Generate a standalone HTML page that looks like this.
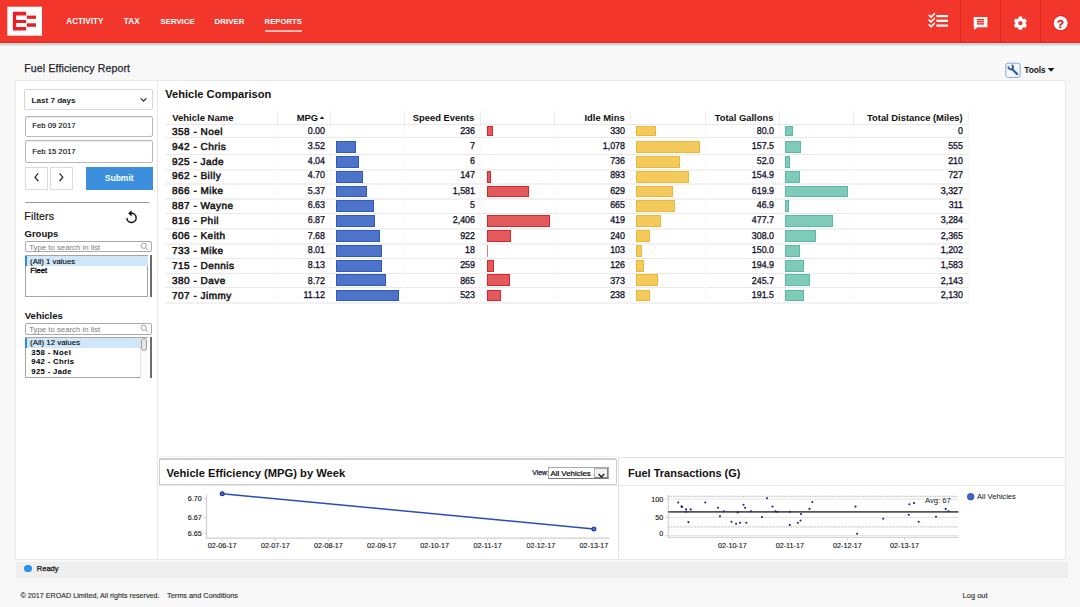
<!DOCTYPE html>
<html><head><meta charset="utf-8"><title>Fuel Efficiency Report</title>
<style>
html,body{margin:0;padding:0;}
body{width:1080px;height:607px;overflow:hidden;position:relative;background:#f8f8f8;font-family:"Liberation Sans", Arial, sans-serif;}
body>div{position:absolute;}
.t{white-space:nowrap;}
</style></head><body>
<div style="left:0px;top:0px;width:1080px;height:43px;background:#f2362b;z-index:2"></div>
<div style="left:0px;top:42px;width:1080px;height:1px;background:#f41f12;z-index:2"></div>
<div style="left:0px;top:43px;width:1080px;height:2px;background:#bfdadd;box-shadow:0 1px 1.5px rgba(0,0,0,.08);z-index:2"></div>
<svg style="position:absolute;left:0;top:0;z-index:3" width="50" height="43" viewBox="0 0 50 43">
<rect x="7.3" y="6.7" width="34.7" height="29" fill="#fff"/>
<path fill="#ee1d23" d="M12.9 11.7H26.1V15.6H16.2V20H26.1V23H16.2V27.1H26.1V30.4H12.9Z"/>
<rect x="26.8" y="15.6" width="9.2" height="3.2" fill="#ee1d23"/>
<rect x="26.8" y="23.3" width="9.2" height="3.5" fill="#ee1d23"/>
</svg>
<div class="t" style="left:66.30px;top:17.73px;font-size:8.15px;line-height:8.15px;font-weight:700;color:#fff;z-index:4;">ACTIVITY</div>
<div class="t" style="left:123.80px;top:17.15px;font-size:8.3px;line-height:8.3px;font-weight:700;color:#fff;z-index:4;">TAX</div>
<div class="t" style="left:160.50px;top:17.90px;font-size:7.8px;line-height:7.8px;font-weight:700;color:#fff;z-index:4;">SERVICE</div>
<div class="t" style="left:214.60px;top:17.82px;font-size:7.95px;line-height:7.95px;font-weight:700;color:#fff;z-index:4;">DRIVER</div>
<div class="t" style="left:264.60px;top:17.95px;font-size:7.7px;line-height:7.7px;font-weight:700;color:#fff;z-index:4;">REPORTS</div>
<div style="left:265px;top:30px;width:37px;height:1.6px;background:#f9b8b3;z-index:4"></div>
<div style="left:960px;top:0px;width:1px;height:43px;background:#d8281f;z-index:4"></div>
<div style="left:1000px;top:0px;width:1px;height:43px;background:#d8281f;z-index:4"></div>
<div style="left:1040px;top:0px;width:1px;height:43px;background:#d8281f;z-index:4"></div>
<svg style="position:absolute;left:920px;top:0;z-index:5" width="160" height="43" viewBox="920 0 160 43">
<g fill="none" stroke="#fff" stroke-width="1.7" stroke-linecap="round" stroke-linejoin="round">
<path d="M929.2 15.3l1.9 1.8 3.3-3.4"/><path d="M929.2 20.1l1.9 1.8 3.3-3.4"/><path d="M929.2 24.9l1.9 1.8 3.3-3.4"/>
</g>
<g fill="#fff"><rect x="936.4" y="15" width="11.6" height="2.2"/><rect x="936.4" y="19.7" width="11.6" height="2.2"/><rect x="936.4" y="24.5" width="11.6" height="2.2"/></g>
<path fill="#fff" d="M973.7 16.9H987.4V27.2H977.5L974.2 29.9V27.2H973.7Z"/>
<g fill="#ee2a1f"><rect x="976.9" y="19" width="7.2" height="1.4"/><rect x="976.9" y="21.1" width="7.2" height="1.4"/><rect x="976.9" y="23.2" width="7.2" height="1.4"/></g>
<g transform="translate(1020.4 23.2)" fill="#fff">
<circle r="5.2"/>
<rect x="-1.8" y="-6.6" width="3.6" height="3" rx=".4" transform="rotate(0)"/>
<rect x="-1.8" y="-6.6" width="3.6" height="3" rx=".4" transform="rotate(60)"/>
<rect x="-1.8" y="-6.6" width="3.6" height="3" rx=".4" transform="rotate(120)"/>
<rect x="-1.8" y="-6.6" width="3.6" height="3" rx=".4" transform="rotate(180)"/>
<rect x="-1.8" y="-6.6" width="3.6" height="3" rx=".4" transform="rotate(240)"/>
<rect x="-1.8" y="-6.6" width="3.6" height="3" rx=".4" transform="rotate(300)"/>
<circle r="2.1" fill="#f2362b"/>
</g>
<circle cx="1060.7" cy="23.2" r="7.2" fill="#fff"/>
<circle cx="1060.7" cy="23.2" r="7.6" fill="none" stroke="#e81a12" stroke-width=".8"/><text x="1060.6" y="27.8" font-family="Liberation Sans, Arial, sans-serif" font-weight="700" font-size="11.5" fill="#e8141b" stroke="#e8141b" stroke-width=".3" text-anchor="middle">?</text>
</svg>
<div class="t" style="left:24.30px;top:63.05px;font-size:10.5px;line-height:10.5px;font-weight:400;color:#23232f;letter-spacing:0.15px;-webkit-text-stroke:0.25px #23232f;">Fuel Efficiency Report</div>
<svg style="position:absolute;left:1004px;top:61px" width="18" height="18" viewBox="1004 61 18 18">
<rect x="1005.8" y="63.2" width="14.4" height="14.2" rx="2" fill="#f4f8fd" stroke="#86a8d8" stroke-width="1"/>
<path d="M1008.6 66.4 A2.3 2.3 0 1 0 1011.6 65.0" fill="none" stroke="#2f5ea8" stroke-width="1.7"/>
<path d="M1011.8 68.8 L1017.2 74.1" fill="none" stroke="#2f5ea8" stroke-width="2.2" stroke-linecap="round"/>
</svg>
<div class="t" style="left:1024.20px;top:66.15px;font-size:8.3px;line-height:8.3px;font-weight:700;color:#111;">Tools</div>
<svg style="position:absolute;left:1047px;top:67px" width="9" height="6"><path d="M0.8 1H7.4L4.1 4.7Z" fill="#111"/></svg>
<div style="left:15px;top:80px;width:1051px;height:480px;background:#fff;border:1px solid #e8e8e8;box-sizing:border-box"></div>
<div style="left:157px;top:81px;width:1px;height:478px;background:#e6e6e6"></div>
<div style="left:24px;top:89px;width:129px;height:21.3px;border:1px solid #d6d6d6;border-radius:2px;box-sizing:border-box;background:#fff"></div>
<div class="t" style="left:31.50px;top:96.75px;font-size:8.1px;line-height:8.1px;font-weight:700;color:#1a1a2a;">Last 7 days</div>
<svg style="position:absolute;left:139px;top:97px" width="9" height="6"><path d="M1.6 1.6L4.6 4.8L7.6 1.6L6.6 1.6L4.6 3.5L2.6 1.6Z" fill="#222" stroke="#222" stroke-width=".5"/></svg>
<div style="left:24.5px;top:115.5px;width:128.5px;height:21.6px;border:1px solid #b8b8b8;border-radius:2px;box-sizing:border-box;background:#fff;box-shadow:inset 0 1px 1px rgba(0,0,0,.08)"></div>
<div class="t" style="left:32.30px;top:121.95px;font-size:7.7px;line-height:7.7px;font-weight:400;color:#000;-webkit-text-stroke:0.1px #000;">Feb 09 2017</div>
<div style="left:24.5px;top:140.4px;width:128.5px;height:23.1px;border:1px solid #b8b8b8;border-radius:2px;box-sizing:border-box;background:#fff;box-shadow:inset 0 1px 1px rgba(0,0,0,.08)"></div>
<div class="t" style="left:32.30px;top:147.95px;font-size:7.7px;line-height:7.7px;font-weight:400;color:#000;-webkit-text-stroke:0.1px #000;">Feb 15 2017</div>
<div style="left:24.9px;top:166.6px;width:23.6px;height:23.1px;border:1px solid #dcdcdc;box-sizing:border-box;background:#fff"></div>
<div style="left:49.6px;top:166.6px;width:23.6px;height:23.1px;border:1px solid #dcdcdc;box-sizing:border-box;background:#fff"></div>
<svg style="position:absolute;left:30px;top:170px" width="40" height="16"><path d="M8.2 3.4L5 7.2L8.2 11" fill="none" stroke="#222" stroke-width="1.2"/><path d="M29.6 3.4L32.8 7.2L29.6 11" fill="none" stroke="#222" stroke-width="1.2"/></svg>
<div style="left:85.5px;top:166.6px;width:67.5px;height:23.3px;background:#3b8fdd"></div>
<div class="t" style="left:-30.80px;top:174.05px;width:300px;text-align:center;font-size:8.5px;line-height:8.5px;font-weight:700;color:#fff;">Submit</div>
<div style="left:24.5px;top:201.6px;width:124px;height:1px;background:#9a9a9a"></div>
<div class="t" style="left:24.30px;top:211.00px;font-size:10.6px;line-height:10.6px;font-weight:400;color:#151520;letter-spacing:0.15px;-webkit-text-stroke:0.2px #151520;">Filters</div>
<svg style="position:absolute;left:120px;top:205px" width="22" height="22" viewBox="120 205 22 22"><path d="M127 218.6 A4.6 4.6 0 1 0 131.4 213.3" fill="none" stroke="#111" stroke-width="1.45" stroke-linecap="round"/><path d="M128.2 213.3 L131.6 210.2 L131.6 216.4 Z" fill="#111"/></svg>
<div class="t" style="left:24.50px;top:229.05px;font-size:9.5px;line-height:9.5px;font-weight:700;color:#111;">Groups</div>
<div style="left:25.1px;top:240.7px;width:127.1px;height:11.3px;border:1px solid #a9a9a9;border-radius:2px;box-sizing:border-box;background:#fff"></div>
<div class="t" style="left:29.20px;top:243.90px;font-size:7.8px;line-height:7.8px;font-weight:400;color:#7c7c7c;">Type to search in list</div>
<svg style="position:absolute;left:140px;top:242px" width="9" height="9"><circle cx="3.8" cy="3.8" r="2.6" fill="none" stroke="#999" stroke-width=".9"/><path d="M5.7 5.7L7.8 7.8" stroke="#999" stroke-width=".9"/></svg>
<div style="left:24.7px;top:255.2px;width:123.6px;height:41.5px;border:1px solid #a6a6a6;box-sizing:border-box;background:#fff"></div>
<div style="left:25.5px;top:255.9px;width:122px;height:10px;background:#cfe7f9"></div>
<div style="left:25px;top:255.9px;width:1.8px;height:10px;background:#2f8ae0"></div>
<div style="left:150.3px;top:255.2px;width:1.9px;height:41.5px;background:#6c6c6c"></div>
<div class="t" style="left:30.10px;top:257.90px;font-size:7.8px;line-height:7.8px;font-weight:400;color:#000;-webkit-text-stroke:0.1px #000;">(All) 1 values</div>
<div class="t" style="left:30.30px;top:267.00px;font-size:7.6px;line-height:7.6px;font-weight:400;color:#000;-webkit-text-stroke:0.3px #000;">Fleet</div>
<div class="t" style="left:24.80px;top:311.05px;font-size:9.5px;line-height:9.5px;font-weight:700;color:#111;">Vehicles</div>
<div style="left:24.9px;top:322.8px;width:127.5px;height:11.8px;border:1px solid #a9a9a9;border-radius:2px;box-sizing:border-box;background:#fff"></div>
<div class="t" style="left:29.20px;top:325.90px;font-size:7.8px;line-height:7.8px;font-weight:400;color:#7c7c7c;">Type to search in list</div>
<svg style="position:absolute;left:140px;top:324px" width="9" height="9"><circle cx="3.8" cy="3.8" r="2.6" fill="none" stroke="#999" stroke-width=".9"/><path d="M5.7 5.7L7.8 7.8" stroke="#999" stroke-width=".9"/></svg>
<div style="left:24.9px;top:337.3px;width:123.5px;height:41.2px;border:1px solid #a6a6a6;box-sizing:border-box;background:#fff"></div>
<div style="left:25.7px;top:338px;width:114px;height:9.8px;background:#cfe7f9"></div>
<div style="left:25.2px;top:338px;width:1.8px;height:9.8px;background:#2f8ae0"></div>
<div style="left:139.8px;top:338px;width:8px;height:40px;background:#fbfbfb;border-left:1px solid #e2e2e2;box-sizing:border-box"></div>
<div style="left:140.6px;top:338.3px;width:6.6px;height:12.6px;background:#e9e9e9;border:1px solid #9c9c9c;border-radius:3.3px;box-sizing:border-box"></div>
<div style="left:150.4px;top:337.3px;width:2px;height:41.2px;background:#6c6c6c"></div>
<div class="t" style="left:30.10px;top:338.85px;font-size:7.9px;line-height:7.9px;font-weight:400;color:#000;-webkit-text-stroke:0.1px #000;">(All) 12 values</div>
<div class="t" style="left:31.30px;top:348.95px;font-size:7.7px;line-height:7.7px;font-weight:700;color:#000;letter-spacing:0.35px;">358 - Noel</div>
<div class="t" style="left:31.30px;top:357.95px;font-size:7.7px;line-height:7.7px;font-weight:700;color:#000;letter-spacing:0.35px;">942 - Chris</div>
<div class="t" style="left:31.30px;top:367.95px;font-size:7.7px;line-height:7.7px;font-weight:700;color:#000;letter-spacing:0.35px;">925 - Jade</div>
<div class="t" style="left:165.30px;top:88.75px;font-size:11.1px;line-height:11.1px;font-weight:700;color:#111;">Vehicle Comparison</div>
<div class="t" style="left:172.20px;top:113.05px;font-size:9.5px;line-height:9.5px;font-weight:700;color:#111;">Vehicle Name</div>
<div class="t" style="left:18.00px;top:113.10px;width:300px;text-align:right;font-size:9.4px;line-height:9.4px;font-weight:700;color:#111;">MPG</div>
<svg style="position:absolute;left:319px;top:115px" width="7" height="5"><path d="M0.6 4L3 1.2L5.4 4Z" fill="#222"/></svg>
<div class="t" style="left:174.30px;top:113.10px;width:300px;text-align:right;font-size:9.4px;line-height:9.4px;font-weight:700;color:#111;">Speed Events</div>
<div class="t" style="left:324.60px;top:113.10px;width:300px;text-align:right;font-size:9.4px;line-height:9.4px;font-weight:700;color:#111;">Idle Mins</div>
<div class="t" style="left:473.40px;top:113.10px;width:300px;text-align:right;font-size:9.4px;line-height:9.4px;font-weight:700;color:#111;">Total Gallons</div>
<div class="t" style="left:662.70px;top:113.10px;width:300px;text-align:right;font-size:9.4px;line-height:9.4px;font-weight:700;color:#111;">Total Distance (Miles)</div>
<div style="left:277px;top:111px;width:1px;height:13px;background:#ececec"></div>
<div style="left:330px;top:111px;width:1px;height:13px;background:#ececec"></div>
<div style="left:404px;top:111px;width:1px;height:13px;background:#ececec"></div>
<div style="left:480px;top:111px;width:1px;height:13px;background:#ececec"></div>
<div style="left:554px;top:111px;width:1px;height:13px;background:#ececec"></div>
<div style="left:630px;top:111px;width:1px;height:13px;background:#ececec"></div>
<div style="left:705px;top:111px;width:1px;height:13px;background:#ececec"></div>
<div style="left:779px;top:111px;width:1px;height:13px;background:#ececec"></div>
<div style="left:853px;top:111px;width:1px;height:13px;background:#ececec"></div>
<div style="left:968px;top:111px;width:1px;height:13px;background:#f0f0f0"></div>
<div style="left:165px;top:124px;width:803px;height:1px;background:#e9e9e9"></div>
<div style="left:165px;top:137px;width:803px;height:1px;background:#e9e9e9"></div>
<div style="left:165px;top:154px;width:803px;height:1px;background:#e9e9e9"></div>
<div style="left:165px;top:169px;width:803px;height:2px;background:#f2f2f2"></div>
<div style="left:165px;top:183px;width:803px;height:2px;background:#f2f2f2"></div>
<div style="left:165px;top:198px;width:803px;height:2px;background:#f2f2f2"></div>
<div style="left:165px;top:213px;width:803px;height:1px;background:#e9e9e9"></div>
<div style="left:165px;top:228px;width:803px;height:2px;background:#f2f2f2"></div>
<div style="left:165px;top:243px;width:803px;height:2px;background:#f2f2f2"></div>
<div style="left:165px;top:258px;width:803px;height:1px;background:#e9e9e9"></div>
<div style="left:165px;top:273px;width:803px;height:1px;background:#e9e9e9"></div>
<div style="left:165px;top:287px;width:803px;height:1px;background:#e9e9e9"></div>
<div style="left:165px;top:302px;width:803px;height:2px;background:#f2f2f2"></div>
<div style="left:277px;top:125px;width:1px;height:178px;background:#f8f8f8"></div>
<div style="left:330px;top:125px;width:1px;height:178px;background:#f8f8f8"></div>
<div style="left:404px;top:125px;width:1px;height:178px;background:#f8f8f8"></div>
<div style="left:480px;top:125px;width:1px;height:178px;background:#f8f8f8"></div>
<div style="left:554px;top:125px;width:1px;height:178px;background:#f8f8f8"></div>
<div style="left:630px;top:125px;width:1px;height:178px;background:#f8f8f8"></div>
<div style="left:705px;top:125px;width:1px;height:178px;background:#f8f8f8"></div>
<div style="left:779px;top:125px;width:1px;height:178px;background:#f8f8f8"></div>
<div style="left:853px;top:125px;width:1px;height:178px;background:#f8f8f8"></div>
<div style="left:968px;top:125px;width:1px;height:178px;background:#f8f8f8"></div>
<div class="t" style="left:172.00px;top:127.80px;font-size:10.0px;line-height:10.0px;font-weight:400;color:#151515;letter-spacing:0.48px;-webkit-text-stroke:0.5px #151515;text-rendering:geometricPrecision;">358 - Noel</div>
<div class="t" style="left:25.00px;top:126.85px;width:300px;text-align:right;font-size:9.9px;line-height:9.9px;font-weight:400;color:#10102a;-webkit-text-stroke:0.3px #10102a;text-rendering:geometricPrecision;transform:scaleX(0.9);transform-origin:right center;">0.00</div>
<div class="t" style="left:174.80px;top:126.85px;width:300px;text-align:right;font-size:9.9px;line-height:9.9px;font-weight:400;color:#10102a;-webkit-text-stroke:0.3px #10102a;text-rendering:geometricPrecision;transform:scaleX(0.9);transform-origin:right center;">236</div>
<div class="t" style="left:325.20px;top:126.85px;width:300px;text-align:right;font-size:9.9px;line-height:9.9px;font-weight:400;color:#10102a;-webkit-text-stroke:0.3px #10102a;text-rendering:geometricPrecision;transform:scaleX(0.9);transform-origin:right center;">330</div>
<div class="t" style="left:474.00px;top:126.85px;width:300px;text-align:right;font-size:9.9px;line-height:9.9px;font-weight:400;color:#10102a;-webkit-text-stroke:0.3px #10102a;text-rendering:geometricPrecision;transform:scaleX(0.9);transform-origin:right center;">80.0</div>
<div class="t" style="left:663.30px;top:126.85px;width:300px;text-align:right;font-size:9.9px;line-height:9.9px;font-weight:400;color:#10102a;-webkit-text-stroke:0.3px #10102a;text-rendering:geometricPrecision;transform:scaleX(0.9);transform-origin:right center;">0</div>
<div style="left:487px;top:126px;width:6.1991687448046555px;height:10px;background:#e35a5c;border:1px solid #d9262c;box-sizing:border-box"></div>
<div style="left:636.4px;top:126px;width:19.346938775510207px;height:10px;background:#f4ca5c;border:1px solid #ecb935;box-sizing:border-box"></div>
<div style="left:784.6px;top:126px;width:8.156154218422326px;height:10px;background:#7ecbba;border:1px solid #5cb9a5;box-sizing:border-box"></div>
<div class="t" style="left:172.00px;top:142.80px;font-size:10.0px;line-height:10.0px;font-weight:400;color:#151515;letter-spacing:0.48px;-webkit-text-stroke:0.5px #151515;text-rendering:geometricPrecision;">942 - Chris</div>
<div class="t" style="left:25.00px;top:141.85px;width:300px;text-align:right;font-size:9.9px;line-height:9.9px;font-weight:400;color:#10102a;-webkit-text-stroke:0.3px #10102a;text-rendering:geometricPrecision;transform:scaleX(0.9);transform-origin:right center;">3.52</div>
<div class="t" style="left:174.80px;top:141.85px;width:300px;text-align:right;font-size:9.9px;line-height:9.9px;font-weight:400;color:#10102a;-webkit-text-stroke:0.3px #10102a;text-rendering:geometricPrecision;transform:scaleX(0.9);transform-origin:right center;">7</div>
<div class="t" style="left:325.20px;top:141.85px;width:300px;text-align:right;font-size:9.9px;line-height:9.9px;font-weight:400;color:#10102a;-webkit-text-stroke:0.3px #10102a;text-rendering:geometricPrecision;transform:scaleX(0.9);transform-origin:right center;">1,078</div>
<div class="t" style="left:474.00px;top:141.85px;width:300px;text-align:right;font-size:9.9px;line-height:9.9px;font-weight:400;color:#10102a;-webkit-text-stroke:0.3px #10102a;text-rendering:geometricPrecision;transform:scaleX(0.9);transform-origin:right center;">157.5</div>
<div class="t" style="left:663.30px;top:141.85px;width:300px;text-align:right;font-size:9.9px;line-height:9.9px;font-weight:400;color:#10102a;-webkit-text-stroke:0.3px #10102a;text-rendering:geometricPrecision;transform:scaleX(0.9);transform-origin:right center;">555</div>
<div style="left:336px;top:141px;width:20.005755395683455px;height:12px;background:#4d74c9;border:1px solid #3259bd;box-sizing:border-box"></div>
<div style="left:636.4px;top:141px;width:63.2px;height:12px;background:#f4ca5c;border:1px solid #ecb935;box-sizing:border-box"></div>
<div style="left:784.6px;top:141px;width:16.05742861751896px;height:12px;background:#7ecbba;border:1px solid #5cb9a5;box-sizing:border-box"></div>
<div class="t" style="left:172.00px;top:157.80px;font-size:10.0px;line-height:10.0px;font-weight:400;color:#151515;letter-spacing:0.48px;-webkit-text-stroke:0.5px #151515;text-rendering:geometricPrecision;">925 - Jade</div>
<div class="t" style="left:25.00px;top:156.85px;width:300px;text-align:right;font-size:9.9px;line-height:9.9px;font-weight:400;color:#10102a;-webkit-text-stroke:0.3px #10102a;text-rendering:geometricPrecision;transform:scaleX(0.9);transform-origin:right center;">4.04</div>
<div class="t" style="left:174.80px;top:156.85px;width:300px;text-align:right;font-size:9.9px;line-height:9.9px;font-weight:400;color:#10102a;-webkit-text-stroke:0.3px #10102a;text-rendering:geometricPrecision;transform:scaleX(0.9);transform-origin:right center;">6</div>
<div class="t" style="left:325.20px;top:156.85px;width:300px;text-align:right;font-size:9.9px;line-height:9.9px;font-weight:400;color:#10102a;-webkit-text-stroke:0.3px #10102a;text-rendering:geometricPrecision;transform:scaleX(0.9);transform-origin:right center;">736</div>
<div class="t" style="left:474.00px;top:156.85px;width:300px;text-align:right;font-size:9.9px;line-height:9.9px;font-weight:400;color:#10102a;-webkit-text-stroke:0.3px #10102a;text-rendering:geometricPrecision;transform:scaleX(0.9);transform-origin:right center;">52.0</div>
<div class="t" style="left:663.30px;top:156.85px;width:300px;text-align:right;font-size:9.9px;line-height:9.9px;font-weight:400;color:#10102a;-webkit-text-stroke:0.3px #10102a;text-rendering:geometricPrecision;transform:scaleX(0.9);transform-origin:right center;">210</div>
<div style="left:336px;top:156px;width:22.96115107913669px;height:12px;background:#4d74c9;border:1px solid #3259bd;box-sizing:border-box"></div>
<div style="left:636.4px;top:156px;width:43.14953617810761px;height:12px;background:#f4ca5c;border:1px solid #ecb935;box-sizing:border-box"></div>
<div style="left:784.6px;top:156px;width:5.301500241974512px;height:12px;background:#7ecbba;border:1px solid #5cb9a5;box-sizing:border-box"></div>
<div class="t" style="left:172.00px;top:171.80px;font-size:10.0px;line-height:10.0px;font-weight:400;color:#151515;letter-spacing:0.48px;-webkit-text-stroke:0.5px #151515;text-rendering:geometricPrecision;">962 - Billy</div>
<div class="t" style="left:25.00px;top:170.85px;width:300px;text-align:right;font-size:9.9px;line-height:9.9px;font-weight:400;color:#10102a;-webkit-text-stroke:0.3px #10102a;text-rendering:geometricPrecision;transform:scaleX(0.9);transform-origin:right center;">4.70</div>
<div class="t" style="left:174.80px;top:170.85px;width:300px;text-align:right;font-size:9.9px;line-height:9.9px;font-weight:400;color:#10102a;-webkit-text-stroke:0.3px #10102a;text-rendering:geometricPrecision;transform:scaleX(0.9);transform-origin:right center;">147</div>
<div class="t" style="left:325.20px;top:170.85px;width:300px;text-align:right;font-size:9.9px;line-height:9.9px;font-weight:400;color:#10102a;-webkit-text-stroke:0.3px #10102a;text-rendering:geometricPrecision;transform:scaleX(0.9);transform-origin:right center;">893</div>
<div class="t" style="left:474.00px;top:170.85px;width:300px;text-align:right;font-size:9.9px;line-height:9.9px;font-weight:400;color:#10102a;-webkit-text-stroke:0.3px #10102a;text-rendering:geometricPrecision;transform:scaleX(0.9);transform-origin:right center;">154.9</div>
<div class="t" style="left:663.30px;top:170.85px;width:300px;text-align:right;font-size:9.9px;line-height:9.9px;font-weight:400;color:#10102a;-webkit-text-stroke:0.3px #10102a;text-rendering:geometricPrecision;transform:scaleX(0.9);transform-origin:right center;">727</div>
<div style="left:336px;top:171px;width:26.71223021582734px;height:12px;background:#4d74c9;border:1px solid #3259bd;box-sizing:border-box"></div>
<div style="left:487px;top:171px;width:3.861346633416459px;height:12px;background:#e35a5c;border:1px solid #d9262c;box-sizing:border-box"></div>
<div style="left:636.4px;top:171px;width:52.353988868274584px;height:12px;background:#f4ca5c;border:1px solid #ecb935;box-sizing:border-box"></div>
<div style="left:784.6px;top:171px;width:15.792353605420232px;height:12px;background:#7ecbba;border:1px solid #5cb9a5;box-sizing:border-box"></div>
<div class="t" style="left:172.00px;top:186.80px;font-size:10.0px;line-height:10.0px;font-weight:400;color:#151515;letter-spacing:0.48px;-webkit-text-stroke:0.5px #151515;text-rendering:geometricPrecision;">866 - Mike</div>
<div class="t" style="left:25.00px;top:186.85px;width:300px;text-align:right;font-size:9.9px;line-height:9.9px;font-weight:400;color:#10102a;-webkit-text-stroke:0.3px #10102a;text-rendering:geometricPrecision;transform:scaleX(0.9);transform-origin:right center;">5.37</div>
<div class="t" style="left:174.80px;top:186.85px;width:300px;text-align:right;font-size:9.9px;line-height:9.9px;font-weight:400;color:#10102a;-webkit-text-stroke:0.3px #10102a;text-rendering:geometricPrecision;transform:scaleX(0.9);transform-origin:right center;">1,581</div>
<div class="t" style="left:325.20px;top:186.85px;width:300px;text-align:right;font-size:9.9px;line-height:9.9px;font-weight:400;color:#10102a;-webkit-text-stroke:0.3px #10102a;text-rendering:geometricPrecision;transform:scaleX(0.9);transform-origin:right center;">629</div>
<div class="t" style="left:474.00px;top:186.85px;width:300px;text-align:right;font-size:9.9px;line-height:9.9px;font-weight:400;color:#10102a;-webkit-text-stroke:0.3px #10102a;text-rendering:geometricPrecision;transform:scaleX(0.9);transform-origin:right center;">619.9</div>
<div class="t" style="left:663.30px;top:186.85px;width:300px;text-align:right;font-size:9.9px;line-height:9.9px;font-weight:400;color:#10102a;-webkit-text-stroke:0.3px #10102a;text-rendering:geometricPrecision;transform:scaleX(0.9);transform-origin:right center;">3,327</div>
<div style="left:336px;top:186px;width:30.52014388489209px;height:11px;background:#4d74c9;border:1px solid #3259bd;box-sizing:border-box"></div>
<div style="left:487px;top:186px;width:41.52917705735661px;height:11px;background:#e35a5c;border:1px solid #d9262c;box-sizing:border-box"></div>
<div style="left:636.4px;top:186px;width:36.87643784786642px;height:11px;background:#f4ca5c;border:1px solid #ecb935;box-sizing:border-box"></div>
<div style="left:784.6px;top:186px;width:63.2px;height:11px;background:#7ecbba;border:1px solid #5cb9a5;box-sizing:border-box"></div>
<div class="t" style="left:172.00px;top:201.80px;font-size:10.0px;line-height:10.0px;font-weight:400;color:#151515;letter-spacing:0.48px;-webkit-text-stroke:0.5px #151515;text-rendering:geometricPrecision;">887 - Wayne</div>
<div class="t" style="left:25.00px;top:200.85px;width:300px;text-align:right;font-size:9.9px;line-height:9.9px;font-weight:400;color:#10102a;-webkit-text-stroke:0.3px #10102a;text-rendering:geometricPrecision;transform:scaleX(0.9);transform-origin:right center;">6.63</div>
<div class="t" style="left:174.80px;top:200.85px;width:300px;text-align:right;font-size:9.9px;line-height:9.9px;font-weight:400;color:#10102a;-webkit-text-stroke:0.3px #10102a;text-rendering:geometricPrecision;transform:scaleX(0.9);transform-origin:right center;">5</div>
<div class="t" style="left:325.20px;top:200.85px;width:300px;text-align:right;font-size:9.9px;line-height:9.9px;font-weight:400;color:#10102a;-webkit-text-stroke:0.3px #10102a;text-rendering:geometricPrecision;transform:scaleX(0.9);transform-origin:right center;">665</div>
<div class="t" style="left:474.00px;top:200.85px;width:300px;text-align:right;font-size:9.9px;line-height:9.9px;font-weight:400;color:#10102a;-webkit-text-stroke:0.3px #10102a;text-rendering:geometricPrecision;transform:scaleX(0.9);transform-origin:right center;">46.9</div>
<div class="t" style="left:663.30px;top:200.85px;width:300px;text-align:right;font-size:9.9px;line-height:9.9px;font-weight:400;color:#10102a;-webkit-text-stroke:0.3px #10102a;text-rendering:geometricPrecision;transform:scaleX(0.9);transform-origin:right center;">311</div>
<div style="left:336px;top:200px;width:37.68129496402878px;height:12px;background:#4d74c9;border:1px solid #3259bd;box-sizing:border-box"></div>
<div style="left:636.4px;top:200px;width:38.98701298701299px;height:12px;background:#f4ca5c;border:1px solid #ecb935;box-sizing:border-box"></div>
<div style="left:784.6px;top:200px;width:4.781545410550089px;height:12px;background:#7ecbba;border:1px solid #5cb9a5;box-sizing:border-box"></div>
<div class="t" style="left:172.00px;top:216.80px;font-size:10.0px;line-height:10.0px;font-weight:400;color:#151515;letter-spacing:0.48px;-webkit-text-stroke:0.5px #151515;text-rendering:geometricPrecision;">816 - Phil</div>
<div class="t" style="left:25.00px;top:215.85px;width:300px;text-align:right;font-size:9.9px;line-height:9.9px;font-weight:400;color:#10102a;-webkit-text-stroke:0.3px #10102a;text-rendering:geometricPrecision;transform:scaleX(0.9);transform-origin:right center;">6.87</div>
<div class="t" style="left:174.80px;top:215.85px;width:300px;text-align:right;font-size:9.9px;line-height:9.9px;font-weight:400;color:#10102a;-webkit-text-stroke:0.3px #10102a;text-rendering:geometricPrecision;transform:scaleX(0.9);transform-origin:right center;">2,406</div>
<div class="t" style="left:325.20px;top:215.85px;width:300px;text-align:right;font-size:9.9px;line-height:9.9px;font-weight:400;color:#10102a;-webkit-text-stroke:0.3px #10102a;text-rendering:geometricPrecision;transform:scaleX(0.9);transform-origin:right center;">419</div>
<div class="t" style="left:474.00px;top:215.85px;width:300px;text-align:right;font-size:9.9px;line-height:9.9px;font-weight:400;color:#10102a;-webkit-text-stroke:0.3px #10102a;text-rendering:geometricPrecision;transform:scaleX(0.9);transform-origin:right center;">477.7</div>
<div class="t" style="left:663.30px;top:215.85px;width:300px;text-align:right;font-size:9.9px;line-height:9.9px;font-weight:400;color:#10102a;-webkit-text-stroke:0.3px #10102a;text-rendering:geometricPrecision;transform:scaleX(0.9);transform-origin:right center;">3,284</div>
<div style="left:336px;top:215px;width:39.0453237410072px;height:12px;background:#4d74c9;border:1px solid #3259bd;box-sizing:border-box"></div>
<div style="left:487px;top:215px;width:63.2px;height:12px;background:#e35a5c;border:1px solid #d9262c;box-sizing:border-box"></div>
<div style="left:636.4px;top:215px;width:24.56474953617811px;height:12px;background:#f4ca5c;border:1px solid #ecb935;box-sizing:border-box"></div>
<div style="left:784.6px;top:215px;width:48.702435876754315px;height:12px;background:#7ecbba;border:1px solid #5cb9a5;box-sizing:border-box"></div>
<div class="t" style="left:172.00px;top:231.80px;font-size:10.0px;line-height:10.0px;font-weight:400;color:#151515;letter-spacing:0.48px;-webkit-text-stroke:0.5px #151515;text-rendering:geometricPrecision;">606 - Keith</div>
<div class="t" style="left:25.00px;top:231.85px;width:300px;text-align:right;font-size:9.9px;line-height:9.9px;font-weight:400;color:#10102a;-webkit-text-stroke:0.3px #10102a;text-rendering:geometricPrecision;transform:scaleX(0.9);transform-origin:right center;">7.68</div>
<div class="t" style="left:174.80px;top:231.85px;width:300px;text-align:right;font-size:9.9px;line-height:9.9px;font-weight:400;color:#10102a;-webkit-text-stroke:0.3px #10102a;text-rendering:geometricPrecision;transform:scaleX(0.9);transform-origin:right center;">922</div>
<div class="t" style="left:325.20px;top:231.85px;width:300px;text-align:right;font-size:9.9px;line-height:9.9px;font-weight:400;color:#10102a;-webkit-text-stroke:0.3px #10102a;text-rendering:geometricPrecision;transform:scaleX(0.9);transform-origin:right center;">240</div>
<div class="t" style="left:474.00px;top:231.85px;width:300px;text-align:right;font-size:9.9px;line-height:9.9px;font-weight:400;color:#10102a;-webkit-text-stroke:0.3px #10102a;text-rendering:geometricPrecision;transform:scaleX(0.9);transform-origin:right center;">308.0</div>
<div class="t" style="left:663.30px;top:231.85px;width:300px;text-align:right;font-size:9.9px;line-height:9.9px;font-weight:400;color:#10102a;-webkit-text-stroke:0.3px #10102a;text-rendering:geometricPrecision;transform:scaleX(0.9);transform-origin:right center;">2,365</div>
<div style="left:336px;top:230px;width:43.64892086330936px;height:12px;background:#4d74c9;border:1px solid #3259bd;box-sizing:border-box"></div>
<div style="left:487px;top:230px;width:24.218786367414797px;height:12px;background:#e35a5c;border:1px solid #d9262c;box-sizing:border-box"></div>
<div style="left:636.4px;top:230px;width:14.070500927643785px;height:12px;background:#f4ca5c;border:1px solid #ecb935;box-sizing:border-box"></div>
<div style="left:784.6px;top:230px;width:31.40119374092596px;height:12px;background:#7ecbba;border:1px solid #5cb9a5;box-sizing:border-box"></div>
<div class="t" style="left:172.00px;top:246.80px;font-size:10.0px;line-height:10.0px;font-weight:400;color:#151515;letter-spacing:0.48px;-webkit-text-stroke:0.5px #151515;text-rendering:geometricPrecision;">733 - Mike</div>
<div class="t" style="left:25.00px;top:245.85px;width:300px;text-align:right;font-size:9.9px;line-height:9.9px;font-weight:400;color:#10102a;-webkit-text-stroke:0.3px #10102a;text-rendering:geometricPrecision;transform:scaleX(0.9);transform-origin:right center;">8.01</div>
<div class="t" style="left:174.80px;top:245.85px;width:300px;text-align:right;font-size:9.9px;line-height:9.9px;font-weight:400;color:#10102a;-webkit-text-stroke:0.3px #10102a;text-rendering:geometricPrecision;transform:scaleX(0.9);transform-origin:right center;">18</div>
<div class="t" style="left:325.20px;top:245.85px;width:300px;text-align:right;font-size:9.9px;line-height:9.9px;font-weight:400;color:#10102a;-webkit-text-stroke:0.3px #10102a;text-rendering:geometricPrecision;transform:scaleX(0.9);transform-origin:right center;">103</div>
<div class="t" style="left:474.00px;top:245.85px;width:300px;text-align:right;font-size:9.9px;line-height:9.9px;font-weight:400;color:#10102a;-webkit-text-stroke:0.3px #10102a;text-rendering:geometricPrecision;transform:scaleX(0.9);transform-origin:right center;">150.0</div>
<div class="t" style="left:663.30px;top:245.85px;width:300px;text-align:right;font-size:9.9px;line-height:9.9px;font-weight:400;color:#10102a;-webkit-text-stroke:0.3px #10102a;text-rendering:geometricPrecision;transform:scaleX(0.9);transform-origin:right center;">1,202</div>
<div style="left:336px;top:245px;width:45.52446043165468px;height:12px;background:#4d74c9;border:1px solid #3259bd;box-sizing:border-box"></div>
<div style="left:487px;top:245px;width:1px;height:12px;background:#e35a5c;opacity:.8"></div>
<div style="left:636.4px;top:245px;width:6.038589981447124px;height:12px;background:#f4ca5c;border:1px solid #ecb935;box-sizing:border-box"></div>
<div style="left:784.6px;top:245px;width:15.292789159541863px;height:12px;background:#7ecbba;border:1px solid #5cb9a5;box-sizing:border-box"></div>
<div class="t" style="left:172.00px;top:261.80px;font-size:10.0px;line-height:10.0px;font-weight:400;color:#151515;letter-spacing:0.48px;-webkit-text-stroke:0.5px #151515;text-rendering:geometricPrecision;">715 - Dennis</div>
<div class="t" style="left:25.00px;top:260.85px;width:300px;text-align:right;font-size:9.9px;line-height:9.9px;font-weight:400;color:#10102a;-webkit-text-stroke:0.3px #10102a;text-rendering:geometricPrecision;transform:scaleX(0.9);transform-origin:right center;">8.13</div>
<div class="t" style="left:174.80px;top:260.85px;width:300px;text-align:right;font-size:9.9px;line-height:9.9px;font-weight:400;color:#10102a;-webkit-text-stroke:0.3px #10102a;text-rendering:geometricPrecision;transform:scaleX(0.9);transform-origin:right center;">259</div>
<div class="t" style="left:325.20px;top:260.85px;width:300px;text-align:right;font-size:9.9px;line-height:9.9px;font-weight:400;color:#10102a;-webkit-text-stroke:0.3px #10102a;text-rendering:geometricPrecision;transform:scaleX(0.9);transform-origin:right center;">126</div>
<div class="t" style="left:474.00px;top:260.85px;width:300px;text-align:right;font-size:9.9px;line-height:9.9px;font-weight:400;color:#10102a;-webkit-text-stroke:0.3px #10102a;text-rendering:geometricPrecision;transform:scaleX(0.9);transform-origin:right center;">194.9</div>
<div class="t" style="left:663.30px;top:260.85px;width:300px;text-align:right;font-size:9.9px;line-height:9.9px;font-weight:400;color:#10102a;-webkit-text-stroke:0.3px #10102a;text-rendering:geometricPrecision;transform:scaleX(0.9);transform-origin:right center;">1,583</div>
<div style="left:336px;top:260px;width:46.206474820143896px;height:12px;background:#4d74c9;border:1px solid #3259bd;box-sizing:border-box"></div>
<div style="left:487px;top:260px;width:6.803325020781379px;height:12px;background:#e35a5c;border:1px solid #d9262c;box-sizing:border-box"></div>
<div style="left:636.4px;top:260px;width:7.387012987012987px;height:12px;background:#f4ca5c;border:1px solid #ecb935;box-sizing:border-box"></div>
<div style="left:784.6px;top:260px;width:19.870430714631397px;height:12px;background:#7ecbba;border:1px solid #5cb9a5;box-sizing:border-box"></div>
<div class="t" style="left:172.00px;top:276.80px;font-size:10.0px;line-height:10.0px;font-weight:400;color:#151515;letter-spacing:0.48px;-webkit-text-stroke:0.5px #151515;text-rendering:geometricPrecision;">380 - Dave</div>
<div class="t" style="left:25.00px;top:276.85px;width:300px;text-align:right;font-size:9.9px;line-height:9.9px;font-weight:400;color:#10102a;-webkit-text-stroke:0.3px #10102a;text-rendering:geometricPrecision;transform:scaleX(0.9);transform-origin:right center;">8.72</div>
<div class="t" style="left:174.80px;top:276.85px;width:300px;text-align:right;font-size:9.9px;line-height:9.9px;font-weight:400;color:#10102a;-webkit-text-stroke:0.3px #10102a;text-rendering:geometricPrecision;transform:scaleX(0.9);transform-origin:right center;">865</div>
<div class="t" style="left:325.20px;top:276.85px;width:300px;text-align:right;font-size:9.9px;line-height:9.9px;font-weight:400;color:#10102a;-webkit-text-stroke:0.3px #10102a;text-rendering:geometricPrecision;transform:scaleX(0.9);transform-origin:right center;">373</div>
<div class="t" style="left:474.00px;top:276.85px;width:300px;text-align:right;font-size:9.9px;line-height:9.9px;font-weight:400;color:#10102a;-webkit-text-stroke:0.3px #10102a;text-rendering:geometricPrecision;transform:scaleX(0.9);transform-origin:right center;">245.7</div>
<div class="t" style="left:663.30px;top:276.85px;width:300px;text-align:right;font-size:9.9px;line-height:9.9px;font-weight:400;color:#10102a;-webkit-text-stroke:0.3px #10102a;text-rendering:geometricPrecision;transform:scaleX(0.9);transform-origin:right center;">2,143</div>
<div style="left:336px;top:274px;width:49.55971223021584px;height:12px;background:#4d74c9;border:1px solid #3259bd;box-sizing:border-box"></div>
<div style="left:487px;top:274px;width:22.72152950955944px;height:12px;background:#e35a5c;border:1px solid #d9262c;box-sizing:border-box"></div>
<div style="left:636.4px;top:274px;width:21.867903525046383px;height:12px;background:#f4ca5c;border:1px solid #ecb935;box-sizing:border-box"></div>
<div style="left:784.6px;top:274px;width:25.04958864332957px;height:12px;background:#7ecbba;border:1px solid #5cb9a5;box-sizing:border-box"></div>
<div class="t" style="left:172.00px;top:291.80px;font-size:10.0px;line-height:10.0px;font-weight:400;color:#151515;letter-spacing:0.48px;-webkit-text-stroke:0.5px #151515;text-rendering:geometricPrecision;">707 - Jimmy</div>
<div class="t" style="left:25.00px;top:290.85px;width:300px;text-align:right;font-size:9.9px;line-height:9.9px;font-weight:400;color:#10102a;-webkit-text-stroke:0.3px #10102a;text-rendering:geometricPrecision;transform:scaleX(0.9);transform-origin:right center;">11.12</div>
<div class="t" style="left:174.80px;top:290.85px;width:300px;text-align:right;font-size:9.9px;line-height:9.9px;font-weight:400;color:#10102a;-webkit-text-stroke:0.3px #10102a;text-rendering:geometricPrecision;transform:scaleX(0.9);transform-origin:right center;">523</div>
<div class="t" style="left:325.20px;top:290.85px;width:300px;text-align:right;font-size:9.9px;line-height:9.9px;font-weight:400;color:#10102a;-webkit-text-stroke:0.3px #10102a;text-rendering:geometricPrecision;transform:scaleX(0.9);transform-origin:right center;">238</div>
<div class="t" style="left:474.00px;top:290.85px;width:300px;text-align:right;font-size:9.9px;line-height:9.9px;font-weight:400;color:#10102a;-webkit-text-stroke:0.3px #10102a;text-rendering:geometricPrecision;transform:scaleX(0.9);transform-origin:right center;">191.5</div>
<div class="t" style="left:663.30px;top:290.85px;width:300px;text-align:right;font-size:9.9px;line-height:9.9px;font-weight:400;color:#10102a;-webkit-text-stroke:0.3px #10102a;text-rendering:geometricPrecision;transform:scaleX(0.9);transform-origin:right center;">2,130</div>
<div style="left:336px;top:290px;width:63.2px;height:11px;background:#4d74c9;border:1px solid #3259bd;box-sizing:border-box"></div>
<div style="left:487px;top:290px;width:13.737988362427265px;height:11px;background:#e35a5c;border:1px solid #d9262c;box-sizing:border-box"></div>
<div style="left:636.4px;top:290px;width:13.953246753246754px;height:11px;background:#f4ca5c;border:1px solid #ecb935;box-sizing:border-box"></div>
<div style="left:784.6px;top:290px;width:19.523794160348444px;height:11px;background:#7ecbba;border:1px solid #5cb9a5;box-sizing:border-box"></div>
<div style="left:618px;top:457px;width:447px;height:1px;background:#e2e2e2"></div>
<div style="left:158px;top:456px;width:460px;height:1px;background:#f3f3f3"></div>
<div style="left:158px;top:485px;width:907px;height:1px;background:#e8e8e8"></div>
<div style="left:618px;top:457px;width:1px;height:102px;background:#e0e0e0"></div>
<div style="left:159px;top:458px;width:458.4px;height:26.6px;border:1px solid #cdcdcd;border-top:2px solid #cfcfcf;border-radius:0 2px 2px 0;box-sizing:border-box;background:#fff"></div>
<div class="t" style="left:166.40px;top:467.70px;font-size:11.2px;line-height:11.2px;font-weight:700;color:#111;">Vehicle Efficiency (MPG) by Week</div>
<div class="t" style="left:532.30px;top:470.40px;font-size:6.8px;line-height:6.8px;font-weight:400;color:#1a1a3a;-webkit-text-stroke:0.25px #1a1a3a;">View:</div>
<div style="left:548px;top:467.3px;width:60.7px;height:11.3px;border:1px solid #a8a8a8;border-bottom-color:#7a7a7a;box-sizing:border-box;background:#fff"></div>
<div class="t" style="left:550.40px;top:469.85px;font-size:7.9px;line-height:7.9px;font-weight:400;color:#000;-webkit-text-stroke:0.2px #000;">All Vehicles</div>
<div style="left:594.4px;top:467.8px;width:13.8px;height:10.4px;background:#f2f2f2;border:1px solid #b0b0b0;border-right-color:#808080;border-bottom-color:#808080;box-sizing:border-box"></div>
<svg style="position:absolute;left:597px;top:470px" width="9" height="9"><path d="M1.6 4L4.4 7L7.2 4" fill="none" stroke="#111" stroke-width="1.2"/></svg>
<div class="t" style="left:628.00px;top:467.80px;font-size:11.0px;line-height:11.0px;font-weight:700;color:#111;">Fuel Transactions (G)</div>
<svg style="position:absolute;left:0;top:0" width="1080" height="607" viewBox="0 0 1080 607" font-family="Liberation Sans, Arial, sans-serif">
<path d="M206.5 494.5V538.2H609.8" fill="none" stroke="#d0d0d0" stroke-width="1.2"/>
<path d="M203.5 498.8H206.5" stroke="#d0d0d0" stroke-width="1"/>
<path d="M203.5 517.4H206.5" stroke="#d0d0d0" stroke-width="1"/>
<path d="M203.5 533.0H206.5" stroke="#d0d0d0" stroke-width="1"/>
<text x="201.8" y="501.40000000000003" font-size="7.2" text-anchor="end" fill="#111" stroke="#111" stroke-width="0.12">6.70</text>
<text x="201.8" y="520.0" font-size="7.2" text-anchor="end" fill="#111" stroke="#111" stroke-width="0.12">6.67</text>
<text x="201.8" y="535.6" font-size="7.2" text-anchor="end" fill="#111" stroke="#111" stroke-width="0.12">6.65</text>
<path d="M222.2 538.2V541" stroke="#d0d0d0" stroke-width="1"/>
<text x="222.2" y="547.9" font-size="7.2" text-anchor="middle" fill="#111" stroke="#111" stroke-width="0.12">02-06-17</text>
<path d="M275.3 538.2V541" stroke="#d0d0d0" stroke-width="1"/>
<text x="275.3" y="547.9" font-size="7.2" text-anchor="middle" fill="#111" stroke="#111" stroke-width="0.12">02-07-17</text>
<path d="M328.4 538.2V541" stroke="#d0d0d0" stroke-width="1"/>
<text x="328.4" y="547.9" font-size="7.2" text-anchor="middle" fill="#111" stroke="#111" stroke-width="0.12">02-08-17</text>
<path d="M381.5 538.2V541" stroke="#d0d0d0" stroke-width="1"/>
<text x="381.5" y="547.9" font-size="7.2" text-anchor="middle" fill="#111" stroke="#111" stroke-width="0.12">02-09-17</text>
<path d="M434.6 538.2V541" stroke="#d0d0d0" stroke-width="1"/>
<text x="434.6" y="547.9" font-size="7.2" text-anchor="middle" fill="#111" stroke="#111" stroke-width="0.12">02-10-17</text>
<path d="M487.7 538.2V541" stroke="#d0d0d0" stroke-width="1"/>
<text x="487.7" y="547.9" font-size="7.2" text-anchor="middle" fill="#111" stroke="#111" stroke-width="0.12">02-11-17</text>
<path d="M540.8 538.2V541" stroke="#d0d0d0" stroke-width="1"/>
<text x="540.8" y="547.9" font-size="7.2" text-anchor="middle" fill="#111" stroke="#111" stroke-width="0.12">02-12-17</text>
<path d="M593.9 538.2V541" stroke="#d0d0d0" stroke-width="1"/>
<text x="593.9" y="547.9" font-size="7.2" text-anchor="middle" fill="#111" stroke="#111" stroke-width="0.12">02-13-17</text>
<path d="M222.2 493.7L593.9 528.9" stroke="#2a4db5" stroke-width="1.5" fill="none"/>
<circle cx="222.2" cy="493.7" r="1.9" fill="#4f70c8" stroke="#1f3c9c" stroke-width="1.2"/>
<circle cx="593.9" cy="528.9" r="1.9" fill="#4f70c8" stroke="#1f3c9c" stroke-width="1.2"/>
<path d="M668.3 494.7V537.4H958.5" fill="none" stroke="#d4d4d4" stroke-width="1.2"/>
<path d="M668.3 499.1H958.5" stroke="#e2e2e2" stroke-width="1"/>
<path d="M665.3 499.1H668.3" stroke="#d4d4d4" stroke-width="1"/>
<path d="M668.3 517.4H958.5" stroke="#e2e2e2" stroke-width="1"/>
<path d="M665.3 517.4H668.3" stroke="#d4d4d4" stroke-width="1"/>
<path d="M668.3 535.6H958.5" stroke="#e2e2e2" stroke-width="1"/>
<path d="M665.3 535.6H668.3" stroke="#d4d4d4" stroke-width="1"/>
<path d="M668.3 496.3H958.5" stroke="#aaaaaa" stroke-width="1" stroke-dasharray="1.2,1.2"/>
<path d="M668.3 526.9H958.5" stroke="#aaaaaa" stroke-width="1" stroke-dasharray="1.2,1.2"/>
<path d="M668.3 511.9H958.5" stroke="#555" stroke-width="1.8"/>
<text x="663.3" y="502.3" font-size="7.2" text-anchor="end" fill="#111" stroke="#111" stroke-width="0.12">100</text>
<text x="663.3" y="520.2" font-size="7.2" text-anchor="end" fill="#111" stroke="#111" stroke-width="0.12">50</text>
<text x="663.3" y="536.2" font-size="7.2" text-anchor="end" fill="#111" stroke="#111" stroke-width="0.12">0</text>
<path d="M732.4 537.4V540.5" stroke="#d4d4d4" stroke-width="1"/>
<text x="732.4" y="547.8" font-size="7.2" text-anchor="middle" fill="#111" stroke="#111" stroke-width="0.12">02-10-17</text>
<path d="M789.8 537.4V540.5" stroke="#d4d4d4" stroke-width="1"/>
<text x="789.8" y="547.8" font-size="7.2" text-anchor="middle" fill="#111" stroke="#111" stroke-width="0.12">02-11-17</text>
<path d="M847.4 537.4V540.5" stroke="#d4d4d4" stroke-width="1"/>
<text x="847.4" y="547.8" font-size="7.2" text-anchor="middle" fill="#111" stroke="#111" stroke-width="0.12">02-12-17</text>
<path d="M904.5 537.4V540.5" stroke="#d4d4d4" stroke-width="1"/>
<text x="904.5" y="547.8" font-size="7.2" text-anchor="middle" fill="#111" stroke="#111" stroke-width="0.12">02-13-17</text>
<circle cx="678.2" cy="502.5" r="1.05" fill="#1a237e"/>
<circle cx="681.5" cy="506.4" r="1.05" fill="#1a237e"/>
<circle cx="682.2" cy="507" r="1.05" fill="#1a237e"/>
<circle cx="686.1" cy="509.4" r="1.05" fill="#1a237e"/>
<circle cx="686" cy="511.7" r="1.05" fill="#1a237e"/>
<circle cx="688.4" cy="522.1" r="1.05" fill="#1a237e"/>
<circle cx="690.7" cy="509.4" r="1.05" fill="#1a237e"/>
<circle cx="705.3" cy="502.5" r="1.05" fill="#1a237e"/>
<circle cx="718" cy="507.8" r="1.05" fill="#1a237e"/>
<circle cx="720" cy="516.3" r="1.05" fill="#1a237e"/>
<circle cx="723.8" cy="511.2" r="1.05" fill="#1a237e"/>
<circle cx="731.5" cy="521.7" r="1.05" fill="#1a237e"/>
<circle cx="736.1" cy="523.8" r="1.05" fill="#1a237e"/>
<circle cx="737.7" cy="512.4" r="1.05" fill="#1a237e"/>
<circle cx="740" cy="522.8" r="1.05" fill="#1a237e"/>
<circle cx="743.5" cy="504.8" r="1.05" fill="#1a237e"/>
<circle cx="745.1" cy="507.8" r="1.05" fill="#1a237e"/>
<circle cx="746.3" cy="522.8" r="1.05" fill="#1a237e"/>
<circle cx="750.9" cy="511.2" r="1.05" fill="#1a237e"/>
<circle cx="762" cy="517" r="1.05" fill="#1a237e"/>
<circle cx="767.1" cy="498.3" r="1.05" fill="#1a237e"/>
<circle cx="772.5" cy="506.6" r="1.05" fill="#1a237e"/>
<circle cx="775.2" cy="511.2" r="1.05" fill="#1a237e"/>
<circle cx="777" cy="511.7" r="1.05" fill="#1a237e"/>
<circle cx="789.8" cy="511.7" r="1.05" fill="#1a237e"/>
<circle cx="789.8" cy="524.9" r="1.05" fill="#1a237e"/>
<circle cx="797.9" cy="522.8" r="1.05" fill="#1a237e"/>
<circle cx="800.5" cy="520.5" r="1.05" fill="#1a237e"/>
<circle cx="801" cy="514" r="1.05" fill="#1a237e"/>
<circle cx="809.5" cy="508.9" r="1.05" fill="#1a237e"/>
<circle cx="812.3" cy="502" r="1.05" fill="#1a237e"/>
<circle cx="855.5" cy="506.6" r="1.05" fill="#1a237e"/>
<circle cx="857.1" cy="533.7" r="1.05" fill="#1a237e"/>
<circle cx="883.2" cy="518.7" r="1.05" fill="#1a237e"/>
<circle cx="908.7" cy="514.7" r="1.05" fill="#1a237e"/>
<circle cx="909.4" cy="504.3" r="1.05" fill="#1a237e"/>
<circle cx="914" cy="503.1" r="1.05" fill="#1a237e"/>
<circle cx="918.7" cy="521.7" r="1.05" fill="#1a237e"/>
<circle cx="936" cy="516.8" r="1.05" fill="#1a237e"/>
<circle cx="945.7" cy="508.9" r="1.05" fill="#1a237e"/>
<circle cx="948.5" cy="511.2" r="1.05" fill="#1a237e"/>
<text x="925" y="503" font-size="7.6" fill="#222">Avg: 67</text>
<circle cx="970.7" cy="496.7" r="3.3" fill="#3f66c6" stroke="#2747a8" stroke-width=".8"/>
<text x="977" y="499.4" font-size="7.6" fill="#111">All Vehicles</text>
</svg>
<div style="left:15.5px;top:562px;width:1052px;height:16px;background:#eeeeee"></div>
<div style="left:24.4px;top:565px;width:7.4px;height:7.4px;border-radius:50%;background:#2a90e9"></div>
<div class="t" style="left:36.80px;top:565.05px;font-size:7.5px;line-height:7.5px;font-weight:400;color:#111;-webkit-text-stroke:0.25px #111;">Ready</div>
<div class="t" style="left:20.40px;top:592.20px;font-size:7.2px;line-height:7.2px;font-weight:400;color:#333;-webkit-text-stroke:0.15px #333;">© 2017 EROAD Limited, All rights reserved.</div>
<div class="t" style="left:167.00px;top:592.12px;font-size:7.35px;line-height:7.35px;font-weight:400;color:#333;-webkit-text-stroke:0.15px #333;">Terms and Conditions</div>
<div class="t" style="left:962.60px;top:592.05px;font-size:7.5px;line-height:7.5px;font-weight:400;color:#333;-webkit-text-stroke:0.15px #333;">Log out</div>
</body></html>
